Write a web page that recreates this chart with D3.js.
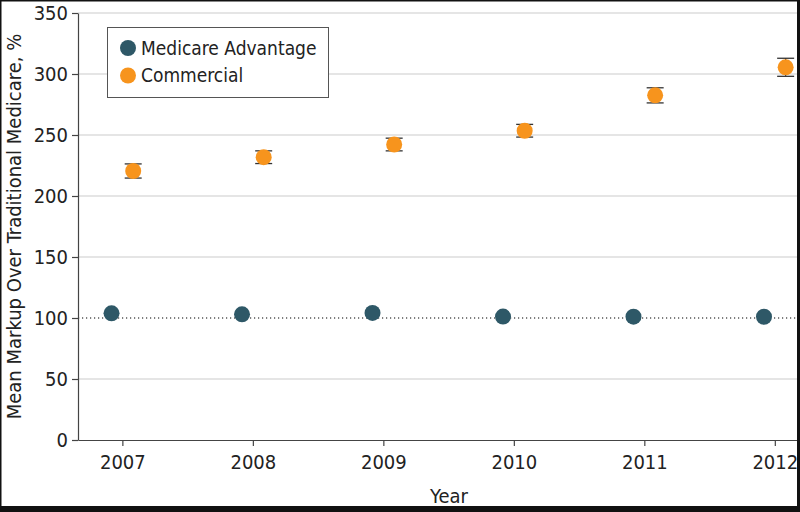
<!DOCTYPE html>
<html><head><meta charset="utf-8">
<script src="https://cdn.jsdelivr.net/npm/d3@7"></script>
<style>
body{margin:0;background:#fff;}
svg{display:block;}
text{font-family:"Liberation Sans Narrow","DejaVu Sans Condensed","Roboto",sans-serif;fill:#222;}
</style></head><body>
<svg id="c" width="800" height="512"></svg>
<script>
const years = [2007, 2008, 2009, 2010, 2011, 2012];
const medicareAdvantage = [103.8, 103, 104.2, 101.2, 101.1, 101];
const commercial = [220.5, 231.8, 242.2, 253.5, 282.5, 305.5];
const commercialErr = [5.8, 5.2, 5.2, 5.2, 6.2, 7.4];
const yTicks = [0, 50, 100, 150, 200, 250, 300, 350];
const seriesNames = ["Medicare Advantage", "Commercial"];
const colors = ["#2e5867", "#f7941d"];

const svg = d3.select("#c");
const m = {l:78, r:3, t:13, b:72};
const W = 800, H = 512;
const x = d3.scaleLinear().domain([2006.66, 2012.17]).range([m.l, W - m.r]);
const y = d3.scaleLinear().domain([0, 350]).range([H - m.b, m.t]);
const off = 0.083;

// gridlines
svg.append("g").selectAll("line").data(yTicks.filter(d => d !== 0 && d !== 100)).join("line")
  .attr("x1", m.l).attr("x2", W - m.r)
  .attr("y1", d => y(d)).attr("y2", d => y(d))
  .attr("stroke", "#dcdcdc").attr("stroke-width", 1.5);

// reference dotted line at 100
svg.append("line").attr("x1", m.l).attr("x2", W - m.r)
  .attr("y1", y(100)).attr("y2", y(100))
  .attr("stroke", "#555").attr("stroke-width", 1.3).attr("stroke-dasharray", "1.2,2.8");

// axes
const yAxis = svg.append("g").attr("transform", `translate(${m.l},0)`)
  .call(d3.axisLeft(y).tickValues(yTicks).tickSize(6).tickPadding(4).tickSizeOuter(0));
const xAxis = svg.append("g").attr("transform", `translate(0,${y(0)})`)
  .call(d3.axisBottom(x).tickValues(years).tickFormat(d3.format("d")).tickSize(6).tickPadding(9).tickSizeOuter(0));
[yAxis, xAxis].forEach(a => {
  a.select(".domain").attr("stroke", "#444").attr("stroke-width", 1.2);
  a.selectAll(".tick line").attr("stroke", "#444").attr("stroke-width", 1.2);
  a.selectAll(".tick text").style("font-size", "20px").attr("fill", "#222");
});

// error bars for commercial
const eb = svg.append("g");
years.forEach((yr, i) => {
  const cx = x(yr + off);
  const lo = y(commercial[i] - commercialErr[i]), hi = y(commercial[i] + commercialErr[i]);
  eb.append("line").attr("x1", cx).attr("x2", cx).attr("y1", lo).attr("y2", hi).attr("stroke", "#333").attr("stroke-width", 1.2);
  [lo, hi].forEach(v => eb.append("line").attr("x1", cx - 8.5).attr("x2", cx + 8.5).attr("y1", v).attr("y2", v).attr("stroke", "#333").attr("stroke-width", 1.3));
});

// points
svg.append("g").selectAll("circle").data(years).join("circle")
  .attr("cx", d => x(d - off)).attr("cy", (d, i) => y(medicareAdvantage[i]))
  .attr("r", 8).attr("fill", colors[0]);
svg.append("g").selectAll("circle").data(years).join("circle")
  .attr("cx", d => x(d + off)).attr("cy", (d, i) => y(commercial[i]))
  .attr("r", 8).attr("fill", colors[1]);

// axis titles
svg.append("text").attr("x", 449).attr("y", 503).attr("text-anchor", "middle")
  .style("font-size", "20px").text("Year");
svg.append("text").attr("transform", `translate(21,${(y(0)+y(350))/2 - 0}) rotate(-90)`)
  .attr("text-anchor", "middle").style("font-size", "20px")
  .text("Mean Markup Over Traditional Medicare, %");

// legend
const lg = svg.append("g");
lg.append("rect").attr("x", 107.5).attr("y", 27.5).attr("width", 221).attr("height", 70)
  .attr("fill", "#fff").attr("stroke", "#555").attr("stroke-width", 1);
seriesNames.forEach((n, i) => {
  lg.append("circle").attr("cx", 128).attr("cy", 48 + i * 27.5).attr("r", 8).attr("fill", colors[i]);
  lg.append("text").attr("x", 141).attr("y", 48 + i * 27.5 + 6.5).style("font-size", "19px").text(n);
});

// frame
svg.append("rect").attr("x", 0.75).attr("y", 0.75).attr("width", 797).attr("height", 506)
  .attr("fill", "none").attr("stroke", "#111").attr("stroke-width", 1.5);
svg.append("rect").attr("x", 797).attr("y", 0).attr("width", 3).attr("height", 512).attr("fill", "#111");
svg.append("rect").attr("x", 0).attr("y", 507).attr("width", 800).attr("height", 5).attr("fill", "#111");
</script></body></html>
